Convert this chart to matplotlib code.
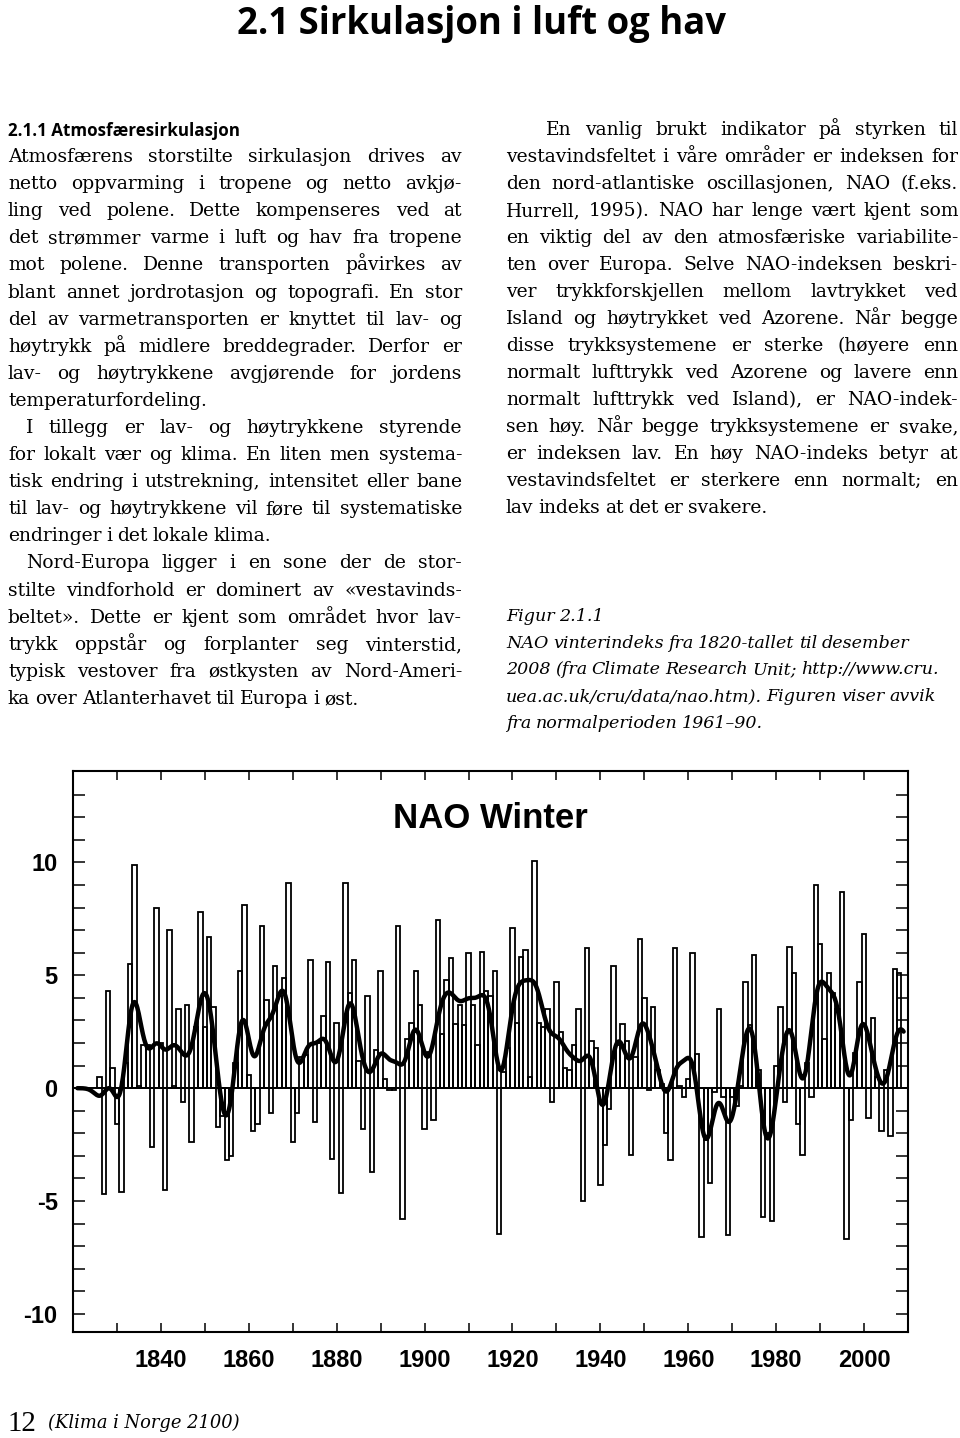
""" Page 12 of 'Klima i Norge 2100': text columns and the NAO winter index chart """

import numpy as np
import matplotlib
matplotlib.use("Agg")
import matplotlib.pyplot as plt
from matplotlib.transforms import IdentityTransform
from matplotlib.ticker import FixedLocator, NullFormatter

# NAO winter index, one value per winter (1826-2008)
first_year = 1826
nao_values = [
    0.5, -4.7, 4.3, 0.9, -1.6, -4.6, 1.1, 5.5, 9.9, 0.1,            # 1826-1835
    1.9, 1.9, -2.6, 8.0, 2.0, -4.5, 7.0, 0.1, 3.5, -0.6,            # 1836-1845
    3.7, -2.4, 2.7, 7.8, 2.7, 6.7, 3.6, -1.7, -1.25, -3.2,          # 1846-1855
    -3.0, 1.1, 5.2, 8.1, 0.6, -1.9, -1.6, 7.2, 3.9, -1.1,           # 1856-1865
    5.4, 4.1, 4.9, 9.1, -2.4, -1.1, 1.4, 1.45, 5.7, -1.5,           # 1866-1875
    2.0, 3.2, 5.6, -3.15, 2.9, -4.65, 9.1, 4.2, 5.7, 1.2,           # 1876-1885
    -1.8, 4.1, -3.7, 1.7, 5.2, 0.4, -0.1, -0.1, 7.2, -5.8,          # 1886-1895
    2.2, 2.9, 5.2, 3.7, -1.8, 1.6, -1.4, 7.45, 2.4, 4.8,            # 1896-1905
    5.75, 2.85, 3.7, 2.8, 6.0, 3.7, 1.9, 6.05, 4.3, 4.1,            # 1906-1915
    5.2, -6.45, 0.7, 1.8, 7.1, 2.9, 5.8, 6.1, 0.5, 10.05,           # 1916-1925
    2.9, 2.7, 3.5, -0.6, 4.7, 2.5, 0.9, 0.8, 1.9, 3.5,              # 1926-1935
    -5.0, 6.2, 2.1, 1.8, -4.3, -2.5, -0.9, 5.4, 1.9, 2.85,          # 1936-1945
    2.1, -2.95, 1.4, 6.6, 4.0, -0.1, 3.6, 0.8, 0.2, -2.0,           # 1946-1955
    -3.2, 6.2, 0.1, -0.4, 0.4, 6.0, 1.5, -6.6, -2.3, -4.2,          # 1956-1965
    -0.15, 3.5, -0.4, -6.5, -0.4, -0.8, 0.1, 4.7, 2.8, 5.9,         # 1966-1975
    0.8, -5.7, -2.0, -5.9, 1.0, 3.6, -0.6, 6.25, 5.1, -1.6,         # 1976-1985
    -2.95, 1.1, -0.4, 9.0, 6.4, 2.2, 5.1, 4.2, 3.5, 8.7,            # 1986-1995
    -6.7, -1.4, 1.55, 4.7, 6.85, -1.3, 3.1, 0.5, -1.9, 0.8,         # 1996-2005
    -2.1, 5.3, 5.1,                                                 # 2006-2008
]
years = np.arange(first_year, first_year + len(nao_values))

# the smoothed curve runs over this span, winters without data count as 0
curve_start, curve_end = 1821, 2009
smooth_sigma = 1.6

y_labelled = [-10, -5, 0, 5, 10]
y_minor = [v for v in range(-10, 14) if v not in y_labelled]
x_labelled = [1840, 1860, 1880, 1900, 1920, 1940, 1960, 1980, 2000]
x_minor = [1830, 1850, 1870, 1890, 1910, 1930, 1950, 1970, 1990]

page_title = "2.1 Sirkulasjon i luft og hav"
left_heading = "2.1.1 Atmosfæresirkulasjon"
chart_title = "NAO Winter"

# (text, indent, last line of paragraph)
left_lines = [
    ("Atmosfærens storstilte sirkulasjon drives av", 0, False),
    ("netto oppvarming i tropene og netto avkjø-", 0, False),
    ("ling ved polene. Dette kompenseres ved at", 0, False),
    ("det strømmer varme i luft og hav fra tropene", 0, False),
    ("mot polene. Denne transporten påvirkes av", 0, False),
    ("blant annet jordrotasjon og topografi. En stor", 0, False),
    ("del av varmetransporten er knyttet til lav- og", 0, False),
    ("høytrykk på midlere breddegrader. Derfor er", 0, False),
    ("lav- og høytrykkene avgjørende for jordens", 0, False),
    ("temperaturfordeling.", 0, True),
    ("I tillegg er lav- og høytrykkene styrende", 18, False),
    ("for lokalt vær og klima. En liten men systema-", 0, False),
    ("tisk endring i utstrekning, intensitet eller bane", 0, False),
    ("til lav- og høytrykkene vil føre til systematiske", 0, False),
    ("endringer i det lokale klima.", 0, True),
    ("Nord-Europa ligger i en sone der de stor-", 18, False),
    ("stilte vindforhold er dominert av «vestavinds-", 0, False),
    ("beltet». Dette er kjent som området hvor lav-", 0, False),
    ("trykk oppstår og forplanter seg vinterstid,", 0, False),
    ("typisk vestover fra østkysten av Nord-Ameri-", 0, False),
    ("ka over Atlanterhavet til Europa i øst.", 0, True),
]

right_lines = [
    ("En vanlig brukt indikator på styrken til", 40, False),
    ("vestavindsfeltet i våre områder er indeksen for", 0, False),
    ("den nord-atlantiske oscillasjonen, NAO (f.eks.", 0, False),
    ("Hurrell, 1995). NAO har lenge vært kjent som", 0, False),
    ("en viktig del av den atmosfæriske variabilite-", 0, False),
    ("ten over Europa. Selve NAO-indeksen beskri-", 0, False),
    ("ver trykkforskjellen mellom lavtrykket ved", 0, False),
    ("Island og høytrykket ved Azorene. Når begge", 0, False),
    ("disse trykksystemene er sterke (høyere enn", 0, False),
    ("normalt lufttrykk ved Azorene og lavere enn", 0, False),
    ("normalt lufttrykk ved Island), er NAO-indek-", 0, False),
    ("sen høy. Når begge trykksystemene er svake,", 0, False),
    ("er indeksen lav. En høy NAO-indeks betyr at", 0, False),
    ("vestavindsfeltet er sterkere enn normalt; en", 0, False),
    ("lav indeks at det er svakere.", 0, True),
]

caption_lines = [
    "Figur 2.1.1",
    "NAO vinterindeks fra 1820-tallet til desember",
    "2008 (fra Climate Research Unit; http://www.cru.",
    "uea.ac.uk/cru/data/nao.htm). Figuren viser avvik",
    "fra normalperioden 1961–90.",
]

page_number = "12"
footer = "(Klima i Norge 2100)"

W, H, DPI = 960, 1438, 100
BODY_FONT = "DejaVu Serif"
BODY_SIZE = 13.5

plt.rcParams["axes.unicode_minus"] = False

fig = plt.figure(figsize=(W / DPI, H / DPI), dpi=DPI, facecolor="white")
renderer = fig.canvas.get_renderer()
pix = IdentityTransform()


def width_of(artist):
    """ Width of a text artist in pixels """
    return artist.get_window_extent(renderer).width


def fit_text(s, x0, x1, baseline, size=12, **kw):
    """
    Put a single text between x0 and x1 (pixels from the left)
    :param baseline: pixels from the top of the page
    """
    t = fig.text(x0, H - baseline, s, fontsize=size, transform=pix,
                 va="baseline", ha="left", **kw)
    t.set_fontsize(size * (x1 - x0) / width_of(t))
    return t


def set_line(s, x0, x1, baseline, justify=True, size=BODY_SIZE, **kw):
    """ Draw one line of body text, word by word, justified to x0..x1 """
    baseline = round(baseline)
    words = s.split(" ")
    arts = [fig.text(0, H - baseline, w, fontsize=size, transform=pix,
                     va="baseline", ha="left", **kw) for w in words]
    widths = [width_of(a) for a in arts]
    space = 0.26 * size * DPI / 72
    natural = sum(widths) + space * (len(words) - 1)
    if natural > x1 - x0:
        # too long for the column: shrink this line a little
        scale = (x1 - x0) / natural
        for a in arts:
            a.set_fontsize(size * scale)
        widths = [w * scale for w in widths]
        space *= scale
    if justify and len(words) > 1:
        space = (x1 - x0 - sum(widths)) / (len(words) - 1)
    x = x0
    for a, w in zip(arts, widths):
        a.set_x(x)
        x += w + space


# page title and section heading
fit_text(page_title, 237, 725, 34, size=28, family="Open Sans", weight="bold")
fit_text(left_heading, 8, 240, 136, size=12, family="Open Sans", weight="bold")

# the two text columns
for i, (s, indent, last) in enumerate(left_lines):
    set_line(s, 8 + indent, 462, 162 + i * 27.1, justify=not last, family=BODY_FONT)

for i, (s, indent, last) in enumerate(right_lines):
    set_line(s, 506 + indent, 958, 135 + i * 27.0, justify=not last, family=BODY_FONT)

for i, s in enumerate(caption_lines):
    set_line(s, 506, 958, 621 + i * 26.75, justify=False, size=12.6,
             family=BODY_FONT, style="italic")

# footer
fit_text(page_number, 8, 37, 1431, size=22, family="Liberation Serif")
fit_text(footer, 48, 240, 1428, size=13, family=BODY_FONT, style="italic")

# ---- NAO chart ----
ax = fig.add_axes([73 / W, 1 - 1332 / H, (908 - 73) / W, (1332 - 771) / H])

ax.bar(years, nao_values, width=1.0, fill=False, edgecolor="black",
       linewidth=1.3, zorder=2)
ax.axhline(0, color="black", linewidth=1.4, zorder=3)

# gaussian weighted running mean of the winters
all_years = np.arange(curve_start, curve_end + 1)
padded = np.zeros(len(all_years))
padded[years - curve_start] = nao_values
t = np.linspace(curve_start, curve_end, 1200)
weights = np.exp(-0.5 * ((t[:, None] - all_years[None, :]) / smooth_sigma) ** 2)
smooth = (weights * padded).sum(axis=1) / weights.sum(axis=1)
ax.plot(t, smooth, color="black", linewidth=3.2, solid_capstyle="round", zorder=4)

ax.set_xlim(1820, 2010)
ax.set_ylim(-10.8, 14.05)

ax.yaxis.set_major_locator(FixedLocator(y_labelled))
ax.yaxis.set_minor_locator(FixedLocator(y_minor))
ax.xaxis.set_major_locator(FixedLocator(x_labelled))
ax.xaxis.set_minor_locator(FixedLocator(x_minor))
ax.xaxis.set_minor_formatter(NullFormatter())
ax.yaxis.set_minor_formatter(NullFormatter())

ax.tick_params(axis="y", which="both", direction="in", length=8.5, width=1.1,
               left=True, right=True, pad=11)
ax.tick_params(axis="x", which="both", direction="in", length=6.5, width=1.1,
               top=True, bottom=True, pad=12)
for lab in ax.get_xticklabels() + ax.get_yticklabels():
    lab.set_family("Liberation Sans")
    lab.set_fontweight("bold")
    lab.set_fontsize(17)

for side in ax.spines.values():
    side.set_linewidth(1.5)

ax.text(0.5, 0.916, chart_title, transform=ax.transAxes, ha="center", va="center",
        fontsize=25, fontweight="bold", family="Liberation Sans")

fig.savefig("out.png", dpi=DPI, facecolor="white")
